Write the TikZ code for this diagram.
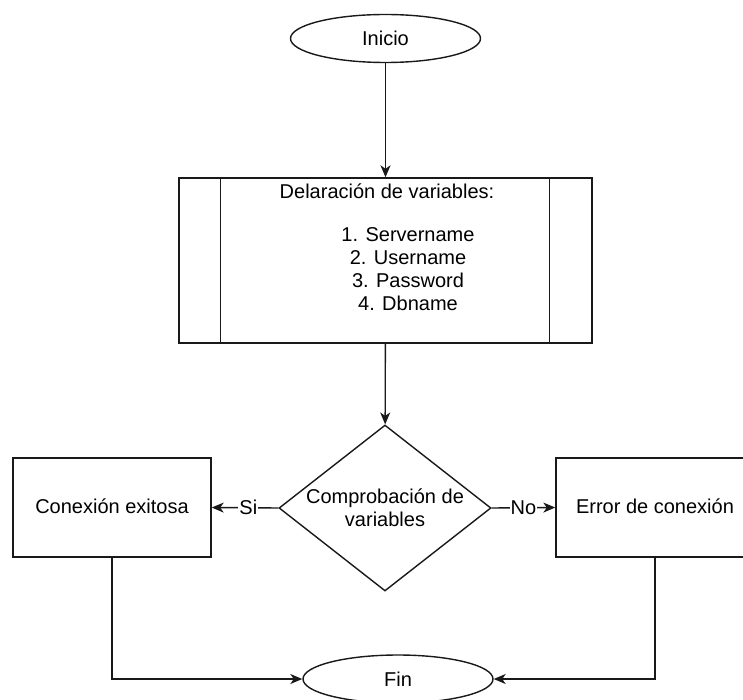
\documentclass[tikz,border=0pt]{standalone}
\usepackage{fontspec}
\setmainfont{Liberation Sans}
\usetikzlibrary{shapes.geometric,arrows.meta,calc}
\begin{document}
\begin{tikzpicture}[x=1pt,y=-1pt,
  every node/.style={font=\fontsize{20}{23}\selectfont},
  ln/.style={line width=1.4pt,draw=black!90},
  arr/.style={ln,-{Stealth[length=12pt,width=10pt,inset=3.5pt]}},
  term/.style={ellipse,ln,fill=white,minimum width=190pt,minimum height=48pt,inner sep=0pt},
  procbox/.style={rectangle,ln,fill=white,minimum width=413pt,minimum height=165pt,inner sep=0pt},
  plainbox/.style={rectangle,ln,fill=white,minimum width=198pt,minimum height=99pt,inner sep=0pt},
  decision/.style={diamond,ln,fill=white,aspect=1.277,minimum width=212pt,minimum height=166pt,inner sep=0pt,align=center},
  txt/.style={inner sep=0pt,align=center},
  lbl/.style={fill=white,inner sep=1pt}
]
\clip (0,0) rectangle (743,700);
\fill[white] (0,0) rectangle (743,700);

\node[term] (inicio) at (385.5,38.5) {Inicio};
\node[procbox] (decl) at (385.5,260.5) {};
\draw[ln] ($(decl.north west)+(42,0)$) -- ($(decl.south west)+(42,0)$);
\draw[ln] ($(decl.north east)+(-43,0)$) -- ($(decl.south east)+(-43,0)$);
\node[txt] (hdr) at (387,191) {Delaración de variables:};
\node[txt] (lista) at (408,269) {1. Servername\\2. Username\\3. Password\\4. Dbname};

\node[decision] (comp) at (385,508) {Comprobación de\\variables};
\node[plainbox] (ok) at (112,507.5) {\raisebox{2pt}{Conexión exitosa}};
\node[plainbox] (err) at (655,507.5) {\raisebox{2pt}{Error de conexión}};
\node[term] (fin) at (398,679) {Fin};

\draw[arr] (inicio) -- (decl);
\draw[arr] (decl) -- (comp);
\draw[arr] (comp.west) -- node[lbl,pos=0.45] (si) {Si} (ok.east);
\draw[arr] (comp.east) -- node[lbl,pos=0.5] (no) {No} (err.west);
\draw[arr] (ok.south) |- (fin.west);
\draw[arr] (err.south) |- (fin.east);
\end{tikzpicture}
\end{document}
